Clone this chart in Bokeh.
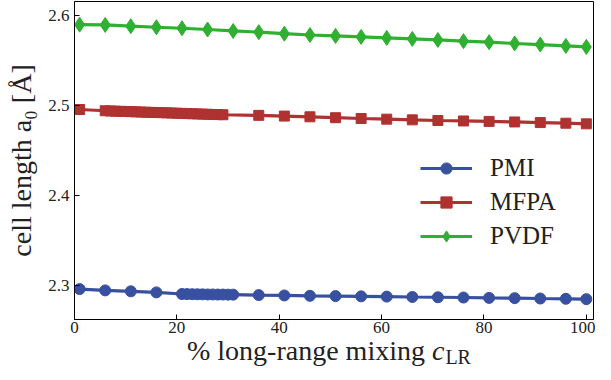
from bokeh.plotting import figure
from bokeh.layouts import column
from bokeh.models import Range1d, FixedTicker, Legend, LegendItem, Div
from bokeh.embed import file_html
from bokeh.resources import INLINE

# ---- data ----
pmi_x = [1, 6, 11, 16, 21, 22, 23, 24, 25, 26, 27, 28, 29, 30, 31,
         36, 41, 46, 51, 56, 61, 66, 71, 76, 81, 86, 91, 96, 100]
pmi_y = [2.2965, 2.2950, 2.2940, 2.2928, 2.2910, 2.2909, 2.2908, 2.2907, 2.2906, 2.2905,
         2.2905, 2.2904, 2.2904, 2.2903, 2.2903,
         2.2898, 2.2894, 2.2890, 2.2887, 2.2884, 2.2881, 2.2877, 2.2874, 2.2871, 2.2867,
         2.2864, 2.2860, 2.2857, 2.2853]

mfpa_x = [1, 6, 7, 8, 9, 10, 11, 12, 13, 14, 15, 16, 17, 18, 19, 20, 21, 22, 23, 24, 25,
          26, 27, 28, 29, 36, 41, 46, 51, 56, 61, 66, 71, 76, 81, 86, 91, 96, 100]
mfpa_y = [2.4958, 2.4944, 2.4942, 2.4940, 2.4938, 2.4936, 2.4934, 2.4932, 2.4930, 2.4928,
          2.4926, 2.4925, 2.4923, 2.4921, 2.4919, 2.4917, 2.4915, 2.4913, 2.4911, 2.4909,
          2.4907, 2.4905, 2.4903, 2.4902, 2.4900,
          2.4893, 2.4885, 2.4877, 2.4867, 2.4858, 2.4851, 2.4843, 2.4836, 2.4831, 2.4826,
          2.4820, 2.4813, 2.4806, 2.4799]

pvdf_x = [1, 6, 11, 16, 21, 26, 31, 36, 41, 46, 51, 56, 61, 66, 71, 76, 81, 86, 91, 96, 100]
pvdf_y = [2.5900, 2.5897, 2.5883, 2.5871, 2.5860, 2.5846, 2.5830, 2.5817, 2.5800, 2.5785,
          2.5775, 2.5764, 2.5753, 2.5742, 2.5730, 2.5717, 2.5705, 2.5691, 2.5679, 2.5664,
          2.5653]

x_ticks = [0, 20, 40, 60, 80, 100]
y_ticks = [2.3, 2.4, 2.5, 2.6]
series_names = ["PMI", "MFPA", "PVDF"]
x_label_parts = ["% long-range mixing", "c", "LR"]
y_label = "cell length a\u2080 [\u00c5]"

BLUE = "#3850A0"
RED = "#B03230"
GREEN = "#30B030"
FONT = "Liberation Serif"
TXT = "#222222"

W = 595
H_MAIN = 340
H_LAB = 24

p = figure(width=W, height=H_MAIN, output_backend="svg", toolbar_location=None,
           x_range=Range1d(0, 101.4), y_range=Range1d(2.2627, 2.6157),
           min_border_left=74, min_border_right=2, min_border_top=1, min_border_bottom=21)

p.xgrid.visible = False
p.ygrid.visible = False
p.outline_line_color = "black"
p.outline_line_width = 1
p.background_fill_color = "white"
p.border_fill_color = "white"

for ax in (p.xaxis[0], p.yaxis[0]):
    ax.major_tick_in = 5
    ax.major_tick_out = 0
    ax.minor_tick_in = 0
    ax.minor_tick_out = 0
    ax.axis_line_color = "black"
    ax.major_tick_line_color = "black"
    ax.major_label_text_font = FONT
    ax.major_label_text_font_size = "17px"
    ax.major_label_text_color = TXT

p.xaxis.ticker = FixedTicker(ticks=x_ticks)
p.yaxis.ticker = FixedTicker(ticks=y_ticks)
p.xaxis.major_label_standoff = 2
p.yaxis.major_label_standoff = 5

p.yaxis.axis_label = y_label
p.yaxis.axis_label_text_font = FONT
p.yaxis.axis_label_text_font_size = "28px"
p.yaxis.axis_label_text_font_style = "normal"
p.yaxis.axis_label_text_color = TXT
p.yaxis.axis_label_standoff = 8

l1 = p.line(pmi_x, pmi_y, line_color=BLUE, line_width=3.2)
s1 = p.scatter(pmi_x, pmi_y, marker="circle", size=11, fill_color=BLUE, line_color=BLUE)
l2 = p.line(mfpa_x, mfpa_y, line_color=RED, line_width=3.2)
s2 = p.scatter(mfpa_x, mfpa_y, marker="square", size=10, fill_color=RED, line_color=RED)
l3 = p.line(pvdf_x, pvdf_y, line_color=GREEN, line_width=3.2)
s3 = p.scatter(pvdf_x, pvdf_y, marker="diamond", size=15, fill_color=GREEN, line_color=GREEN)

legend = Legend(items=[
    LegendItem(label=series_names[0], renderers=[l1, s1]),
    LegendItem(label=series_names[1], renderers=[l2, s2]),
    LegendItem(label=series_names[2], renderers=[l3, s3]),
], location=(346, 66))
legend.padding = 0
legend.margin = 0
legend.spacing = 0
legend.glyph_width = 52
legend.glyph_height = 28
legend.label_height = 34
legend.label_standoff = 18
legend.label_text_font = FONT
legend.label_text_font_size = "25px"
legend.label_text_color = TXT
legend.border_line_color = None
legend.background_fill_alpha = 0
p.add_layout(legend)

# x-axis title as rich text below the plot: main text, italic c, subscript LR
xlab_html = (
    '<div style="padding-left:187px; font-family:\'Liberation Serif\'; font-size:28px; '
    'line-height:22px; color:%s; white-space:nowrap;">%s '
    '<span style="font-style:italic;">%s</span>'
    '<span style="font-size:20px; position:relative; top:4px; margin-left:1px;">%s</span>'
    '</div>' % (TXT, x_label_parts[0], x_label_parts[1], x_label_parts[2])
)
xlab = Div(text=xlab_html, width=W, height=H_LAB, margin=0,
           styles={"overflow": "visible"})

layout = column(p, xlab, spacing=0)
open("out.html", "w").write(file_html(layout, INLINE))
